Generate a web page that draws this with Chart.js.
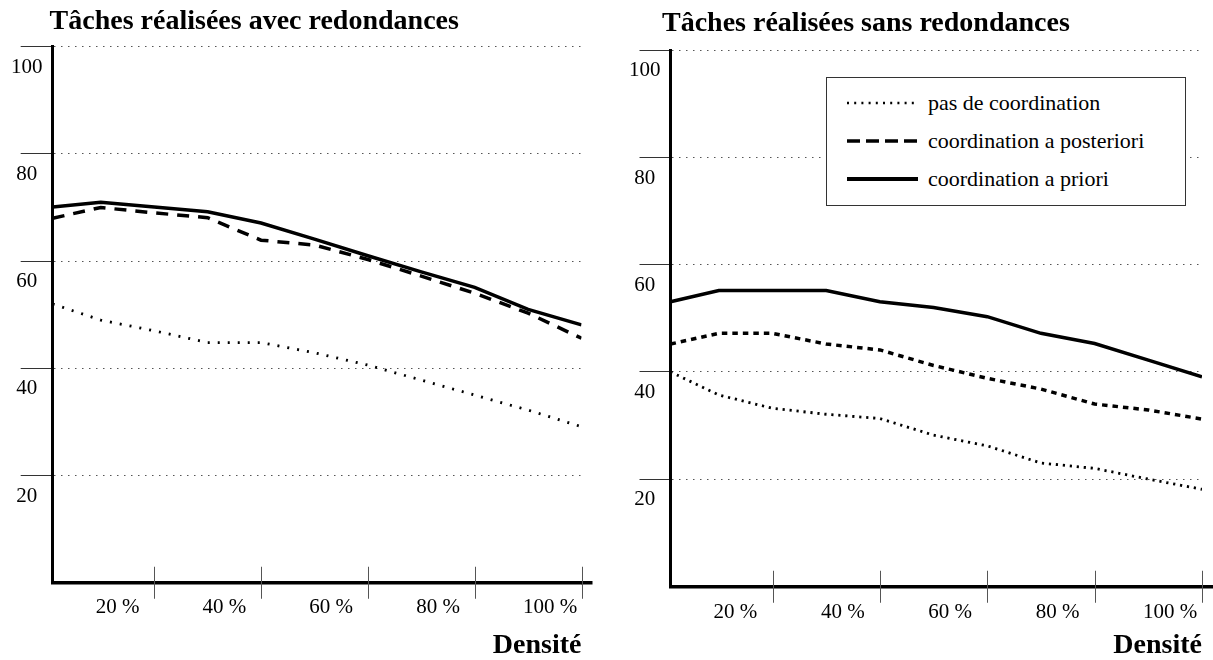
<!DOCTYPE html>
<html lang="fr">
<head>
<meta charset="utf-8">
<title>Tâches réalisées</title>
<script src="https://cdn.jsdelivr.net/npm/chart.js@4"></script>
<style>
  body { margin: 0; background: #fff; }
  #page { position: relative; width: 1213px; height: 660px; font-family: "Liberation Serif", "Times New Roman", serif; }
  .box { position: absolute; top: 0; height: 660px; }
  #leftBox { left: 0; width: 610px; }
  #rightBox { left: 610px; width: 603px; }
  #legend { position: absolute; left: 826px; top: 77px; width: 360px; height: 129px; box-sizing: border-box;
            border: 1px solid #333; padding: 6.4px 0 0 20px; background: #fff; }
  .row { display: flex; align-items: center; height: 37.8px; font-size: 22px; color: #000; }
  .row svg { width: 71px; height: 12px; margin-right: 10px; flex: none; }
</style>
</head>
<body>
<div id="page">
  <div class="box" id="leftBox"><canvas id="chartAvec"></canvas></div>
  <div class="box" id="rightBox"><canvas id="chartSans"></canvas></div>
  <div id="legend">
    <div class="row"><svg><line x1="0" y1="6" x2="71" y2="6" stroke="#000" stroke-width="2.4" stroke-dasharray="2 5.2"/></svg><span>pas de coordination</span></div>
    <div class="row"><svg><line x1="0" y1="6" x2="71" y2="6" stroke="#000" stroke-width="3.5" stroke-dasharray="13 6"/></svg><span>coordination a posteriori</span></div>
    <div class="row"><svg><line x1="0" y1="6" x2="71" y2="6" stroke="#000" stroke-width="4"/></svg><span>coordination a priori</span></div>
  </div>
</div>
<script>
// densité (%) of each measured point
const densities = [1, 10, 20, 30, 40, 50, 60, 70, 80, 90, 100];
const xTicks = [20, 40, 60, 80, 100];
const yTicks = [20, 40, 60, 80, 100];
const seriesNames = ["pas de coordination", "coordination a posteriori", "coordination a priori"];

// Tâches réalisées avec redondances
const avecPas = [52.0, 49.0, 47.0, 44.8, 44.8, 42.9, 40.6, 37.8, 35.0, 32.2, 29.1];
const avecPosteriori = [68.0, 70.0, 69.0, 68.1, 63.9, 63.0, 60.3, 57.2, 54.0, 50.3, 45.6];
const avecPriori = [70.1, 71.0, 70.1, 69.2, 67.1, 64.1, 61.0, 58.0, 55.1, 51.0, 48.1];

// Tâches réalisées sans redondances
const sansPas = [40.0, 35.7, 33.2, 32.1, 31.3, 28.2, 26.2, 23.0, 22.0, 20.0, 18.1];
const sansPosteriori = [45.2, 47.2, 47.2, 45.2, 44.1, 41.2, 38.8, 36.8, 34.0, 32.9, 31.2];
const sansPriori = [53.1, 55.2, 55.2, 55.2, 53.1, 52.0, 50.3, 47.2, 45.3, 42.2, 39.1];

const serif = '"Liberation Serif", "Times New Roman", serif';
Chart.defaults.color = "#000";
Chart.defaults.font.family = serif;

// x tick marks cross the axis, and the axis runs a bit past the last tick
const crossTicks = {
  id: "crossTicks",
  afterDraw(chart, args, opts) {
    const xs = chart.scales.x;
    const ctx = chart.ctx;
    const w = opts.axisWidth;
    const base = Math.round(chart.chartArea.bottom - w / 2) + w / 2;
    ctx.save();
    ctx.strokeStyle = "#000";
    ctx.lineWidth = w;
    ctx.beginPath();
    ctx.moveTo(xs.right, base);
    ctx.lineTo(xs.right + opts.extend, base);
    ctx.stroke();
    ctx.lineWidth = 1;
    ctx.strokeStyle = opts.color;
    xs.ticks.forEach((tick, i) => {
      const px = Math.round(xs.getPixelForTick(i)) + 0.5;
      ctx.beginPath();
      ctx.moveTo(px, base - opts.above);
      ctx.lineTo(px, base + opts.below);
      ctx.stroke();
    });
    ctx.restore();
  }
};

function points(values) {
  return densities.map((d, i) => ({ x: d, y: values[i] }));
}

function buildChart(canvasId, spec) {
  const canvas = document.getElementById(canvasId);
  const ctx = canvas.getContext("2d");
  return new Chart(ctx, {
    type: "line",
    data: {
      datasets: [
        { label: seriesNames[0], data: points(spec.pas), borderColor: "#000", borderWidth: spec.dotWidth,
          borderDash: spec.dotDash, pointRadius: 0, tension: 0 },
        { label: seriesNames[1], data: points(spec.posteriori), borderColor: "#000", borderWidth: spec.dashWidth,
          borderDash: spec.dashDash, pointRadius: 0, tension: 0 },
        { label: seriesNames[2], data: points(spec.priori), borderColor: "#000", borderWidth: 3.5,
          pointRadius: 0, tension: 0 },
      ],
    },
    options: {
      responsive: true,
      maintainAspectRatio: false,
      animation: false,
      events: [],
      layout: { padding: { left: spec.padLeft, right: spec.padRight, top: 0, bottom: 0 } },
      scales: {
        x: {
          type: "linear",
          min: 1,
          max: 100,
          afterBuildTicks: (scale) => { scale.ticks = xTicks.map((v) => ({ value: v })); },
          afterFit: (scale) => { scale.height = spec.xHeight; scale.paddingLeft = 0; scale.paddingRight = 0; },
          grid: { display: false, drawTicks: false, tickLength: 0 },
          border: { display: true, color: "#000", width: 3.5 },
          ticks: {
            autoSkip: false, maxRotation: 0, minRotation: 0,
            align: "start",
            labelOffset: spec.xLabelOffset,
            padding: spec.xLabelPad,
            font: { size: 21 },
            callback: (v) => v + " %",
          },
          title: {
            display: true, text: "Densité", align: "end",
            font: { size: 28, weight: "bold" },
            padding: { top: 0, bottom: -3 },
          },
        },
        y: {
          min: 0,
          max: 100,
          afterBuildTicks: (scale) => { scale.ticks = yTicks.map((v) => ({ value: v })); },
          afterFit: (scale) => { scale.width = spec.yWidth; },
          grid: {
            color: "#555", lineWidth: 1,
            drawTicks: true, tickLength: spec.yTickLen, tickColor: "#333", tickWidth: 1,
          },
          border: { display: true, color: "#000", width: 3, dash: [1.5, 5.5] },
          ticks: {
            // mirrored so the labels are not clipped to the narrow axis box
            mirror: true,
            crossAlign: "center",
            padding: spec.yPad,
            labelOffset: 20.5,
            font: { size: 21 },
          },
        },
      },
      plugins: {
        legend: { display: false },
        tooltip: { enabled: false },
        title: {
          display: true, text: spec.title, align: "start",
          font: { size: 28, weight: "bold" },
          padding: spec.titlePad,
        },
        crossTicks: { color: "#555", above: 16, below: 16, extend: 11, axisWidth: 3.5 },
      },
    },
    plugins: [crossTicks],
  });
}

buildChart("chartAvec", {
  title: "Tâches réalisées avec redondances",
  pas: avecPas, posteriori: avecPosteriori, priori: avecPriori,
  padLeft: 49.6, padRight: 28.5,
  titlePad: { top: 5.4, bottom: 7.7 },
  yWidth: 3.1, xHeight: 77.3,
  yTickLen: 32, yPad: -41.8,
  xLabelPad: 12, xLabelOffset: -58.5,
  dotDash: [2, 8], dotWidth: 2.8,
  dashDash: [12, 9], dashWidth: 3.5,
});

buildChart("chartSans", {
  title: "Tâches réalisées sans redondances",
  pas: sansPas, posteriori: sansPosteriori, priori: sansPriori,
  padLeft: 52, padRight: 11,
  titlePad: { top: 7.1, bottom: 9.6 },
  yWidth: 8.5, xHeight: 73.7,
  yTickLen: 31, yPad: -41.5,
  xLabelPad: 13.5, xLabelOffset: -59,
  dotDash: [2.2, 4.8], dotWidth: 2.8,
  dashDash: [5.5, 5], dashWidth: 3.5,
});
</script>
</body>
</html>
